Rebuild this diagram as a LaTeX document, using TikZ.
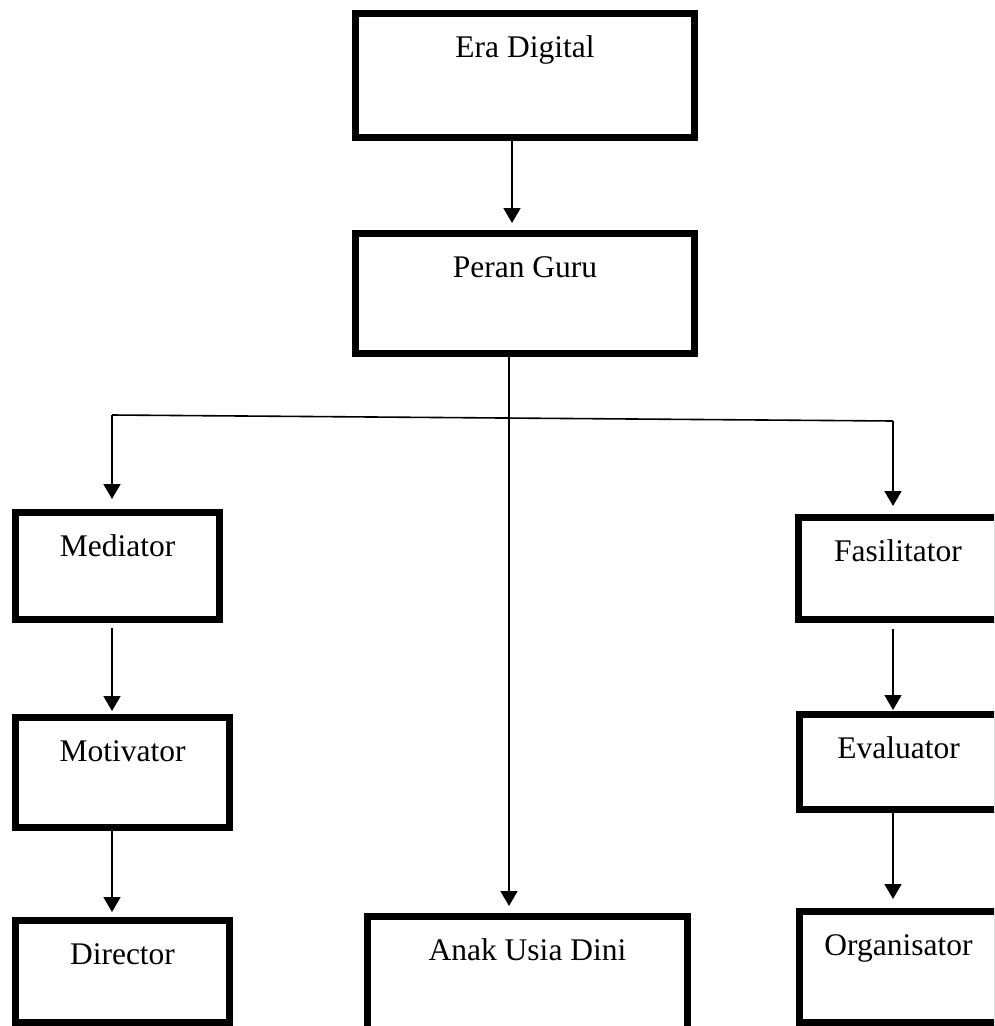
\documentclass[tikz,border=0pt]{standalone}
\usepackage{fontspec}
\setmainfont{Liberation Serif}
\usetikzlibrary{arrows.meta}
\begin{document}
\begin{tikzpicture}[x=1pt,y=-1pt,
  box/.style={draw, line width=7pt, inner sep=0pt, outer sep=3.5pt, rectangle},
  lbl/.style={anchor=base, yshift=-47pt, font=\fontsize{31.5}{36}\selectfont},
  conn/.style={line width=1.6pt},
  arr/.style={conn, -{Triangle[width=17pt,length=15pt]}}]
\useasboundingbox (0,0) rectangle (994,1026);
\clip (0,0) rectangle (994,1026);
% boxes
\node[box, minimum width=339pt, minimum height=124pt, label={[lbl]north:Era Digital}] (era) at (525,75.5) {};
\node[box, minimum width=339pt, minimum height=120pt, label={[lbl]north:Peran Guru}] (peran) at (525,293.5) {};
\node[box, minimum width=204pt, minimum height=107pt, label={[lbl]north:Mediator}] (mediator) at (117.5,566) {};
\node[box, minimum width=214pt, minimum height=110pt, label={[lbl]north:Motivator}] (motivator) at (122.5,772.5) {};
\node[box, minimum width=214pt, minimum height=102pt, label={[lbl]north:Director}] (director) at (122.5,971.5) {};
\node[box, minimum width=320pt, minimum height=117pt, label={[lbl]north:Anak Usia Dini}] (anak) at (527.5,975) {};
\node[box, minimum width=199pt, minimum height=102pt, label={[lbl]north:Fasilitator}] (fasil) at (898,568.5) {};
\node[box, minimum width=198pt, minimum height=95pt, label={[lbl]north:Evaluator}] (eval) at (898.5,762) {};
\node[box, minimum width=198pt, minimum height=111pt, label={[lbl]north:Organisator}] (organ) at (898.5,967) {};
% connector coordinates
\coordinate (bl) at (112,415);
\coordinate (br) at (893,421);
% connectors
\draw[arr, shorten >=7pt] ([xshift=-13pt]era.south) -- ([xshift=-13pt]peran.north);
\draw[arr, shorten >=7pt] ([xshift=-16pt]peran.south) -- ([xshift=-18.5pt]anak.north);
\draw[conn] (bl) -- (br);
\draw[arr, shorten >=10pt] (bl) -- (bl |- mediator.north);
\draw[arr, shorten >=8pt] (br) -- (br |- fasil.north);
\draw[arr, shorten <=5pt, shorten >=3pt] (mediator.south -| bl) -- (motivator.north -| bl);
\draw[arr, shorten >=5pt] (motivator.south -| bl) -- (director.north -| bl);
\draw[arr, shorten <=6pt, shorten >=1pt] (fasil.south -| br) -- (eval.north -| br);
\draw[arr, shorten >=9pt] (eval.south -| br) -- (organ.north -| br);
\end{tikzpicture}
\end{document}
